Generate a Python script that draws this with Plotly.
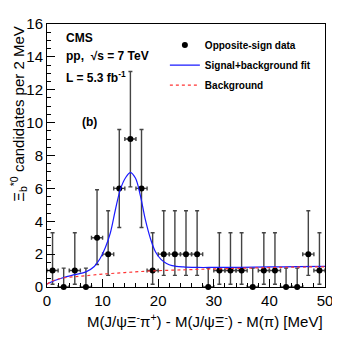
import plotly.graph_objects as go

# binned data (2 MeV bins)
bin_centers = [1, 3, 5, 7, 9, 11, 13, 15, 17, 19, 21, 23, 25, 27, 29,
               31, 33, 35, 37, 39, 41, 43, 45, 47, 49]
counts = [1, 0, 1, 0, 3, 2, 6, 9, 6, 1, 2, 2, 2, 2, 0,
          1, 1, 1, 0, 1, 1, 0, 0, 2, 1]
err_hi = [2.3, 1.15, 2.3, 1.15, 2.92, 2.64, 3.58, 4.11, 3.58, 2.3, 2.64, 2.64, 2.64, 2.64, 1.15,
          2.3, 2.3, 2.3, 1.15, 2.3, 2.3, 1.15, 1.15, 2.64, 2.3]
err_lo = [0.83, 0, 0.83, 0, 1.63, 1.29, 2.38, 2.91, 2.38, 0.83, 1.29, 1.29, 1.29, 1.29, 0,
          0.83, 0.83, 0.83, 0, 0.83, 0.83, 0, 0, 1.29, 0.83]

# fit curves
fit_x = [0, 1.5, 3, 5, 7, 8.5, 9.5, 10.5, 11.4, 12.3, 13.2, 14.1, 15, 15.9, 16.8,
         17.7, 18.6, 19.5, 20.5, 21.5, 22.5, 24.5, 27, 30, 35, 40, 45, 50]
fit_y = [0.18, 0.41, 0.58, 0.75, 0.92, 1.25, 1.7, 2.4, 3.3, 4.7, 5.94, 6.63, 6.96, 6.63, 5.55,
         4.08, 2.95, 2.15, 1.68, 1.43, 1.3, 1.22, 1.19, 1.19, 1.2, 1.22, 1.24, 1.26]
bkg_x = [0, 1, 3, 5, 7, 10, 14, 19, 25, 30, 35, 40, 45, 50]
bkg_y = [0.16, 0.38, 0.55, 0.63, 0.69, 0.78, 0.88, 0.98, 1.05, 1.1, 1.14, 1.18, 1.21, 1.23]

FONT = "Liberation Sans, Arial, sans-serif"

fig = go.Figure()
fig.add_trace(go.Scatter(x=bin_centers, y=counts, mode="markers", name="Opposite-sign data",
                         legendgroup="a",
                         marker=dict(color="black", size=6),
                         error_y=dict(type="data", symmetric=False, array=err_hi, arrayminus=err_lo,
                                      color="#444444", thickness=1.4, width=2),
                         error_x=dict(type="constant", value=1, color="#444444", thickness=1.4, width=2),
                         cliponaxis=False))
fig.add_trace(go.Scatter(x=fit_x, y=fit_y, mode="lines", name="Signal+background fit",
                         legendgroup="b",
                         line=dict(color="#1a1aff", width=1.2, shape="spline")))
fig.add_trace(go.Scatter(x=bkg_x, y=bkg_y, mode="lines", name="Background",
                         legendgroup="c",
                         line=dict(color="#ff3333", width=1.2, dash="dot", shape="spline")))

# page body has an 8px margin, so the figure is shrunk by that much
fig.update_layout(
    width=332, height=329,
    margin=dict(l=39, r=15, t=7, b=50),
    paper_bgcolor="white", plot_bgcolor="white",
    font=dict(family=FONT, color="black", size=15),
    showlegend=True,
    legend=dict(x=0.424, y=0.975, xanchor="left", yanchor="top",
                bgcolor="rgba(0,0,0,0)", font=dict(size=10, weight="bold"),
                itemwidth=30, tracegroupgap=1),
    xaxis=dict(range=[0, 50], showgrid=False, zeroline=False, showline=True, linecolor="black",
               linewidth=1, mirror=True, ticks="inside", ticklen=8, tickcolor="black",
               dtick=10, tick0=0, tickfont=dict(size=15), ticklabeloverflow="allow",
               minor=dict(ticks="inside", ticklen=4, dtick=2, tickcolor="black")),
    yaxis=dict(range=[0, 16], showgrid=False, zeroline=False, showline=True, linecolor="black",
               linewidth=1, mirror=True, ticks="inside", ticklen=8, tickcolor="black",
               dtick=2, tick0=0, tickfont=dict(size=15), ticklabeloverflow="allow",
               minor=dict(ticks="inside", ticklen=4, dtick=0.5, tickcolor="black")),
)

fig.add_annotation(text="<b>CMS</b>", xref="paper", yref="paper", x=0.061, y=0.945,
                   xanchor="left", yanchor="middle", showarrow=False, font=dict(size=12))
fig.add_annotation(text="<b>pp,  √s = 7 TeV</b>", xref="paper", yref="paper", x=0.061, y=0.879,
                   xanchor="left", yanchor="middle", showarrow=False, font=dict(size=12))
fig.add_annotation(text="<b>L = 5.3 fb<sup>-1</sup></b>", xref="paper", yref="paper", x=0.061, y=0.798,
                   xanchor="left", yanchor="middle", showarrow=False, font=dict(size=12))
fig.add_annotation(text="<b>(b)</b>", xref="paper", yref="paper", x=0.12, y=0.629,
                   xanchor="left", yanchor="middle", showarrow=False, font=dict(size=12))
fig.add_annotation(text="M(J/ψΞ<sup>-</sup>π<sup>+</sup>) - M(J/ψΞ<sup>-</sup>) - M(π) [MeV]",
                   xref="paper", yref="paper", x=1.0, y=-0.085, xanchor="right", yanchor="top",
                   showarrow=False, font=dict(size=15))
fig.add_annotation(text="Ξ<sub>b</sub><sup>*0</sup> candidates per 2 MeV",
                   xref="paper", yref="paper", x=-0.105, y=1.0, xanchor="center", yanchor="top",
                   textangle=-90, showarrow=False, font=dict(size=15))

fig.write_html("out.html")
